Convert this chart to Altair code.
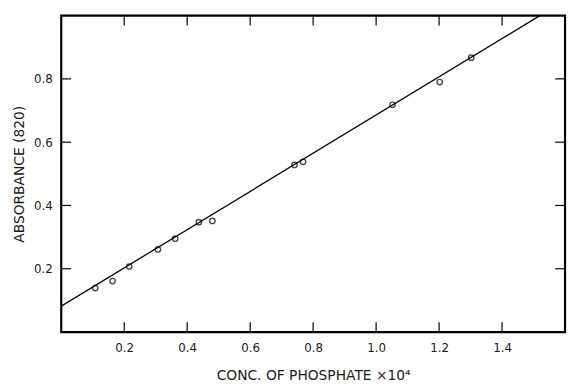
import altair as alt
import pandas as pd

# Data
conc = [0.108, 0.163, 0.216, 0.307, 0.362, 0.437, 0.480, 0.741, 0.768, 1.052, 1.202, 1.302]
absorbance = [0.139, 0.161, 0.207, 0.261, 0.295, 0.347, 0.351, 0.528, 0.538, 0.718, 0.790, 0.867]

fit_x = [0.0, 1.52]
fit_y = [0.082, 1.0]

x_ticks = [0.2, 0.4, 0.6, 0.8, 1.0, 1.2, 1.4]
y_ticks = [0.2, 0.4, 0.6, 0.8]

W, H = 511, 321
FONT = "DejaVu Sans"
INK = "#1a1a1a"

pts = pd.DataFrame({"x": conc, "y": absorbance})
fit = pd.DataFrame({"x": fit_x, "y": fit_y})
xt = pd.DataFrame({"t": x_ticks})
yt = pd.DataFrame({"t": y_ticks})

xscale = alt.Scale(domain=[0, 1.6], nice=False, zero=False)
yscale = alt.Scale(domain=[0, 1.0], nice=False, zero=False)

xaxis = alt.Axis(
    values=x_ticks, format=".1f", ticks=False, domain=False, grid=False,
    labelFont=FONT, labelFontSize=12, labelColor=INK, labelPadding=11,
    title="CONC. OF PHOSPHATE ×10⁴", titleFont=FONT, titleFontSize=14,
    titleFontWeight="normal", titleColor=INK, titlePadding=15,
)
yaxis = alt.Axis(
    values=y_ticks, format=".1f", ticks=False, domain=False, grid=False,
    labelFont=FONT, labelFontSize=12, labelColor=INK, labelPadding=9,
    title="ABSORBANCE (820)", titleFont=FONT, titleFontSize=14,
    titleFontWeight="normal", titleColor=INK, titlePadding=7,
)

points = alt.Chart(pts).mark_point(
    shape="circle", filled=False, size=30, stroke="black", strokeWidth=1.4
).encode(
    x=alt.X("x:Q", scale=xscale, axis=xaxis),
    y=alt.Y("y:Q", scale=yscale, axis=yaxis),
)

line = alt.Chart(fit).mark_line(color="black", strokeWidth=1.3, clip=True).encode(
    x=alt.X("x:Q", scale=xscale),
    y=alt.Y("y:Q", scale=yscale),
)

tick_style = dict(color="black", strokeWidth=1.2)
bottom_ticks = alt.Chart(xt).mark_rule(**tick_style).encode(
    x=alt.X("t:Q", scale=xscale), y=alt.value(H), y2=alt.value(H - 10)
)
top_ticks = alt.Chart(xt).mark_rule(**tick_style).encode(
    x=alt.X("t:Q", scale=xscale), y=alt.value(0), y2=alt.value(10)
)
left_ticks = alt.Chart(yt).mark_rule(**tick_style).encode(
    y=alt.Y("t:Q", scale=yscale), x=alt.value(0), x2=alt.value(10)
)
right_ticks = alt.Chart(yt).mark_rule(**tick_style).encode(
    y=alt.Y("t:Q", scale=yscale), x=alt.value(W), x2=alt.value(W - 10)
)

chart = alt.layer(
    line, points, bottom_ticks, top_ticks, left_ticks, right_ticks
).properties(
    width=W, height=H,
    autosize=alt.AutoSizeParams(type="none"),
    padding={"left": 54, "top": 5, "right": 2, "bottom": 50},
    background="white",
).configure_view(stroke="black", strokeWidth=2.2)

chart.save("out.html", embed_options={"renderer": "svg", "actions": False})
